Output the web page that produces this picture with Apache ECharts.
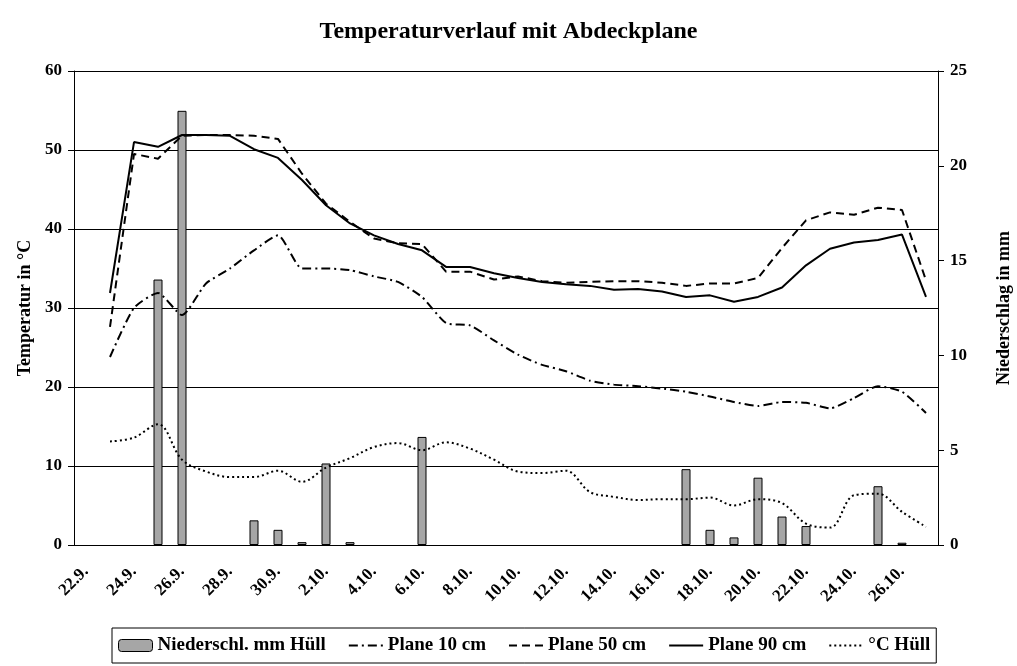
<!DOCTYPE html>
<html>
<head>
<meta charset="utf-8">
<script src="https://cdn.jsdelivr.net/npm/echarts@6/dist/echarts.min.js"></script>
<style>
  html, body { margin: 0; padding: 0; background: #fff; }
  #main { width: 1017px; height: 666px; }
</style>
</head>
<body>
<div id="main"></div>
<script>
  // Tage 22.9. - 27.10.
  const days = ['22.9.', '23.9.', '24.9.', '25.9.', '26.9.', '27.9.', '28.9.', '29.9.', '30.9.',
    '1.10.', '2.10.', '3.10.', '4.10.', '5.10.', '6.10.', '7.10.', '8.10.', '9.10.', '10.10.',
    '11.10.', '12.10.', '13.10.', '14.10.', '15.10.', '16.10.', '17.10.', '18.10.', '19.10.', '20.10.',
    '21.10.', '22.10.', '23.10.', '24.10.', '25.10.', '26.10.', '27.10.']

  // Niederschlag mm (rechte Achse), '-' = kein Niederschlag
  const rain = ['-', '-', '-', 14.0, 22.9, '-', '-', 1.3, 0.8, 0.15, 4.3, 0.15, '-', '-', 5.7, '-', '-', '-', '-',
    '-', '-', '-', '-', '-', '-', 4.0, 0.8, 0.4, 3.55, 1.5, 1.0, '-', '-', 3.1, 0.12, '-']

  const plane10 = [null, 23.8, 30.0, 31.9, 29.1, 33.1, 35.0, 37.3, 39.2, 35.0, 35.0, 34.8, 34.0, 33.3,
    31.4, 28.1, 27.8, 25.9, 24.1, 22.8, 22.0, 20.8, 20.3, 20.1, 19.8, 19.4, 18.8, 18.1, 17.6,
    18.1, 18.0, 17.3, 18.6, 20.1, 19.4, 16.7]

  const plane50 = [null, 27.6, 49.5, 48.9, 51.8, 51.9, 51.9, 51.8, 51.4, 47.0, 43.2, 40.9, 38.8, 38.2,
    38.1, 34.6, 34.6, 33.6, 34.0, 33.4, 33.2, 33.3, 33.4, 33.4, 33.2, 32.8, 33.1, 33.1, 33.8,
    37.6, 41.1, 42.1, 41.8, 42.7, 42.4, 33.5]

  const plane90 = [null, 31.9, 51.0, 50.4, 51.9, 51.9, 51.8, 50.1, 49.0, 46.2, 43.0, 40.7, 39.2, 38.1,
    37.3, 35.2, 35.2, 34.4, 33.8, 33.3, 33.0, 32.8, 32.3, 32.4, 32.1, 31.4, 31.6, 30.8, 31.4,
    32.6, 35.4, 37.5, 38.3, 38.6, 39.3, 31.4]

  const huell = [null, 13.1, 13.6, 15.3, 10.8, 9.3, 8.6, 8.6, 9.4, 8.0, 9.8, 11.0, 12.4, 12.9,
    12.0, 13.0, 12.2, 10.8, 9.3, 9.1, 9.4, 6.7, 6.1, 5.7, 5.8, 5.8, 6.0, 5.0, 5.8,
    5.3, 2.7, 2.2, 6.3, 6.5, 4.2, 2.3]

  const font = 'Liberation Serif'
  const chart = echarts.init(document.getElementById('main'))

  const lineSeries = (name, data, type, smooth) => ({
    name: name,
    type: 'line',
    data: data,
    yAxisIndex: 0,
    symbol: 'none',
    smooth: smooth,
    connectNulls: false,
    lineStyle: { color: '#000', width: 2, type: type },
    itemStyle: { color: '#000' },
    z: 3
  })

  // Legende: Linien ohne Punktsymbol
  const lineLegend = (name) => ({ name: name, itemStyle: { opacity: 0 } })

  const option = {
    animation: false,
    backgroundColor: '#fff',
    title: {
      text: 'Temperaturverlauf mit Abdeckplane',
      left: 'center',
      top: 15,
      textStyle: { fontFamily: font, fontWeight: 'bold', fontSize: 24, color: '#000' }
    },
    grid: { left: 74, right: 79, top: 71, bottom: 121, outerBoundsMode: 'none' },
    legend: {
      bottom: 3,
      left: 112,
      itemGap: 22,
      itemWidth: 34,
      itemHeight: 12,
      padding: [8, 6],
      borderColor: '#000',
      borderWidth: 1,
      textStyle: { fontFamily: font, fontWeight: 'bold', fontSize: 19, color: '#000' },
      data: [
        { name: 'Niederschl. mm Hüll', itemStyle: { color: '#a6a6a6', borderColor: '#000', borderWidth: 1 } },
        lineLegend('Plane 10 cm'),
        lineLegend('Plane 50 cm'),
        lineLegend('Plane 90 cm'),
        lineLegend('°C Hüll')
      ]
    },
    xAxis: {
      type: 'category',
      data: days,
      boundaryGap: true,
      axisLine: { lineStyle: { color: '#000', width: 1 } },
      axisTick: { interval: 1, length: 6, lineStyle: { color: '#000' } },
      axisLabel: {
        interval: 1,
        rotate: 45,
        margin: 24,
        fontFamily: font,
        fontWeight: 'bold',
        fontSize: 17,
        color: '#000'
      },
      splitLine: { show: false }
    },
    yAxis: [
      {
        type: 'value',
        min: 0,
        max: 60,
        interval: 10,
        name: 'Temperatur in °C',
        nameLocation: 'middle',
        nameGap: 37,
        nameTextStyle: { fontFamily: font, fontWeight: 'bold', fontSize: 18, color: '#000' },
        axisLine: { show: true, lineStyle: { color: '#000' } },
        axisTick: { show: true, length: 6, lineStyle: { color: '#000' } },
        axisLabel: { fontFamily: font, fontWeight: 'bold', fontSize: 17, color: '#000', margin: 12 },
        splitLine: { lineStyle: { color: '#000', width: 1 } }
      },
      {
        type: 'value',
        min: 0,
        max: 25,
        interval: 5,
        name: 'Niederschlag in mm',
        nameLocation: 'middle',
        nameGap: 57,
        nameRotate: 90,
        nameTextStyle: { fontFamily: font, fontWeight: 'bold', fontSize: 18, color: '#000' },
        axisLine: { show: true, lineStyle: { color: '#000' } },
        axisTick: { show: true, length: 6, lineStyle: { color: '#000' } },
        axisLabel: { fontFamily: font, fontWeight: 'bold', fontSize: 17, color: '#000', margin: 12 },
        splitLine: { show: false }
      }
    ],
    series: [
      {
        name: 'Niederschl. mm Hüll',
        type: 'bar',
        yAxisIndex: 1,
        data: rain,
        barWidth: 9,
        itemStyle: { color: '#a6a6a6', borderColor: '#000', borderWidth: 1 },
        z: 2
      },
      lineSeries('Plane 10 cm', plane10, [9, 4, 2, 4], 0.2),
      lineSeries('Plane 50 cm', plane50, [8, 5], false),
      lineSeries('Plane 90 cm', plane90, 'solid', false),
      lineSeries('°C Hüll', huell, [2, 3], 0.35)
    ]
  }
  chart.setOption(option)
</script>
</body>
</html>
